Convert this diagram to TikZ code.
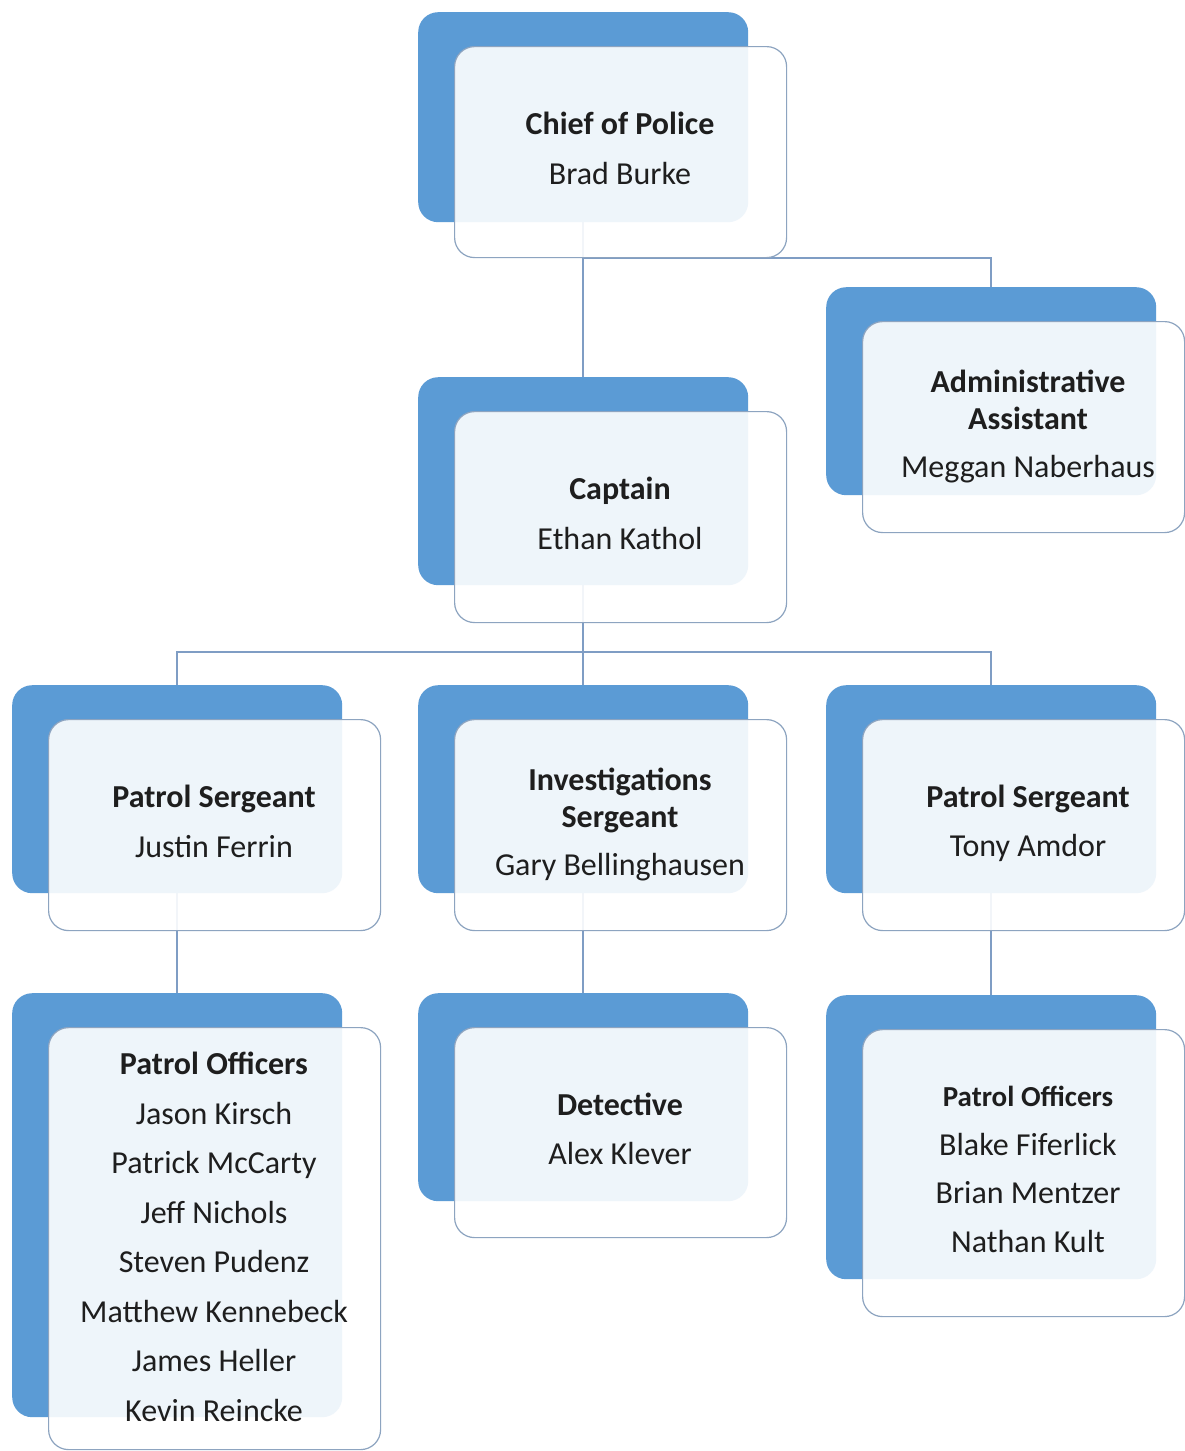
\documentclass[tikz,border=0pt]{standalone}
\usepackage{fontspec}
\setmainfont{Carlito}
\usetikzlibrary{calc}
\definecolor{ublue}{HTML}{5B9BD5}
\definecolor{uedge}{HTML}{8DA4C0}
\definecolor{uline}{HTML}{7F9DC4}
\definecolor{utext}{HTML}{1E1E1E}
\pgfdeclarelayer{bg}
\pgfsetlayers{bg,main}
% name, x0, y0, blue height, front height, front width, text offset, text
\newcommand\orgunit[8]{%
  \node[bluebox, minimum height=#4pt, anchor=north west] (#1B) at (#2,#3) {};
  \node[frontbox, minimum height=#5pt, minimum width=#6pt, anchor=north west] (#1) at (#2+36,#3+34) {};
  \node[txt] (#1T) at (#2+202,#3+#7+#5/2) {#8};
}
\begin{document}
\begin{tikzpicture}[x=1pt,y=-1pt,
  bluebox/.style={fill=ublue, draw=none, rounded corners=20pt, minimum width=330pt, inner sep=0pt},
  frontbox/.style={fill=white, fill opacity=0.9, draw=uedge, line width=1.2pt, rounded corners=20pt, inner sep=0pt},
  txt/.style={align=center, text=utext, inner sep=0pt, font=\fontsize{32pt}{49.5pt}\selectfont},
  conn/.style={draw=uline, line width=1.5pt}]
\useasboundingbox (0,0) rectangle (1184,1451);

\orgunit{chief}{418}{12}{210}{211}{332}{31}{\textbf{Chief of Police}\\Brad Burke}
\orgunit{admin}{826}{287}{208}{211}{322}{34}{\textbf{Administrative}\\[-13pt]\textbf{Assistant}\\[-1pt]Meggan Naberhaus}
\orgunit{capt}{418}{377}{208}{211}{332}{31}{\textbf{Captain}\\Ethan Kathol}
\orgunit{psL}{12}{685}{208}{211}{332}{31}{\textbf{Patrol Sergeant}\\Justin Ferrin}
\orgunit{inv}{418}{685}{208}{211}{332}{34}{\textbf{Investigations}\\[-13pt]\textbf{Sergeant}\\[-1pt]Gary Bellinghausen}
\orgunit{psR}{826}{685}{208}{211}{322}{33}{\textbf{Patrol Sergeant}\\Tony Amdor}
\orgunit{poL}{12}{993}{424}{422}{332}{33}{\textbf{Patrol Officers}\\Jason Kirsch\\Patrick McCarty\\Jeff Nichols\\Steven Pudenz\\Matthew Kennebeck\\James Heller\\Kevin Reincke}
\orgunit{det}{418}{993}{208}{210}{332}{31}{\textbf{Detective}\\Alex Klever}
\orgunit{poR}{826}{995}{284}{287}{322}{31}{{\fontsize{29pt}{48pt}\selectfont\textbf{Patrol Officers}}\\[-1pt]Blake Fiferlick\\[-1pt]Brian Mentzer\\[-1pt]Nathan Kult}

\coordinate (bus) at (584,652);
\begin{pgfonlayer}{bg}
  \fill[white] (0,0) rectangle (1184,1451);
  \draw[conn] (chiefB.south) -- (captB.north);
  \draw[conn] (chiefB.south |- chief.south) -| (adminB.north);
  \draw[conn] (captB.south) -- (invB.north);
  \draw[conn] (psLB.north) |- (bus) -| (psRB.north);
  \draw[conn] (psLB.south) -- (poLB.north);
  \draw[conn] (invB.south) -- (detB.north);
  \draw[conn] (psRB.south) -- (poRB.north);
\end{pgfonlayer}
\end{tikzpicture}
\end{document}
